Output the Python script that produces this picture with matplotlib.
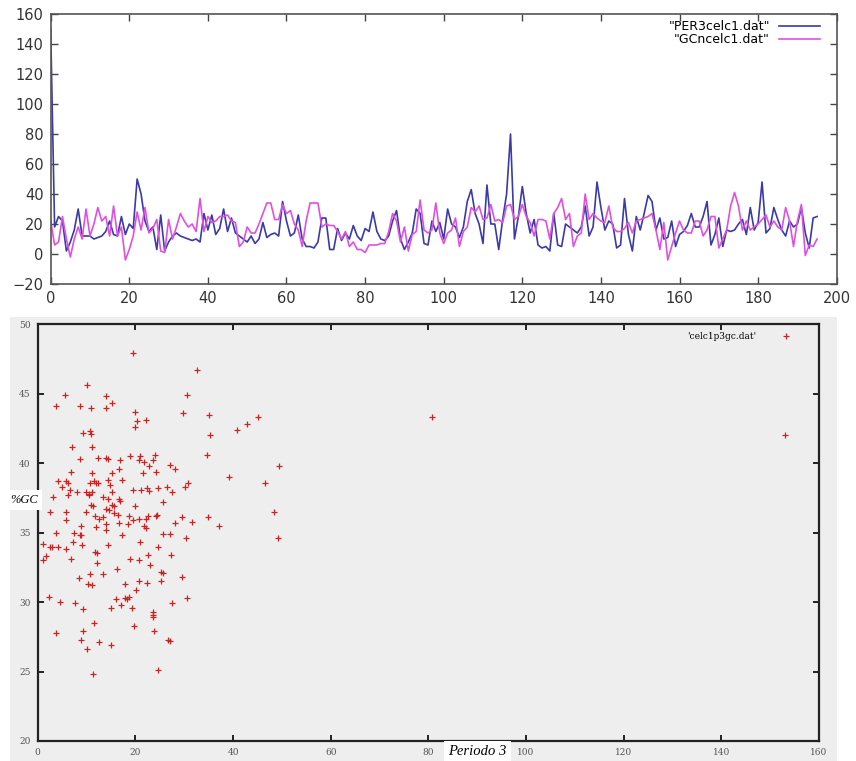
import matplotlib.pyplot as plt
import numpy as np
from matplotlib.patches import Rectangle

# --- top panel: two series, x = 0..195
per3 = [150, 18, 25, 22, 2, 8, 16, 30, 12, 12,
        12, 10, 11, 12, 15, 22, 13, 12, 25, 13,
        20, 17, 50, 40, 22, 15, 18, 3, 26, 2,
        8, 12, 14, 12, 11, 10, 9, 10, 8, 27,
        16, 26, 13, 17, 30, 15, 24, 14, 12, 10,
        8, 12, 7, 10, 21, 11, 13, 14, 12, 35,
        22, 12, 14, 26, 10, 5, 5, 4, 8, 24,
        24, 3, 3, 17, 9, 14, 10, 19, 12, 9,
        17, 15, 28, 15, 10, 9, 12, 22, 29, 10,
        3, 8, 14, 30, 27, 7, 6, 22, 15, 21,
        10, 30, 20, 18, 11, 18, 35, 43, 27, 20,
        7, 46, 20, 20, 3, 23, 40, 80, 10, 25,
        45, 27, 14, 23, 6, 4, 5, 2, 27, 6,
        5, 20, 18, 16, 14, 18, 32, 12, 18, 48,
        31, 16, 22, 20, 4, 6, 37, 13, 2, 25,
        16, 27, 39, 35, 16, 24, 10, 11, 22, 5,
        13, 15, 19, 27, 18, 18, 25, 35, 6, 13,
        24, 5, 16, 15, 16, 20, 23, 13, 31, 16,
        21, 48, 14, 17, 31, 23, 16, 12, 22, 18,
        20, 31, 14, 4, 24, 25]

gcn = [22, 6, 8, 25, 10, -2, 10, 18, 10, 30,
       12, 20, 31, 22, 25, 12, 32, 12, 18, -4,
       3, 12, 28, 16, 31, 14, 17, 23, 2, 1,
       23, 10, 18, 27, 22, 18, 20, 15, 37, 15,
       25, 21, 22, 25, 25, 26, 22, 21, 5, 8,
       18, 14, 14, 20, 27, 34, 34, 23, 23, 33,
       27, 29, 20, 16, 5, 22, 34, 34, 34, 18,
       20, 19, 19, 15, 10, 15, 5, 8, 3, 3,
       1, 6, 6, 6, 7, 7, 15, 27, 22, 8,
       18, 2, 13, 15, 36,
       16, 14, 16, 34, 14, 7, 14, 16, 24, 5,
       15, 18, 31, 28, 32, 23, 24, 33, 22, 23,
       21, 32, 33, 23, 25, 33, 25, 21, 12, 23,
       23, 22, 10, 27, 31, 37, 23, 27, 5, 12,
       14, 40, 23, 27, 24, 22, 21, 32, 18, 15,
       15, 17, 21, 14, 22, 23, 24, 25, 27, 16,
       3, 21, -4, 5, 14, 22, 16, 14, 14, 22,
       22, 12, 16, 25, 25, 4, 10, 16, 32, 41,
       32, 16, 22, 16, 18, 20, 23, 26, 18, 22,
       18, 16, 31, 22, 5, 22, 33, -1, 6, 5, 10]

# --- bottom panel: periodo 3 vs %GC
periodo3 = [19.5, 32.7, 10.1, 5.6, 13.9, 30.5, 15.2, 3.8, 8.6, 11.0,
            14.0, 19.9, 29.8, 35.1, 45.2, 20.3, 22.1, 42.8, 19.9, 40.8,
            9.2, 10.8, 11.0, 35.3, 7.0, 11.2, 34.6, 24.0, 12.3, 14.0,
            14.4, 19.0, 20.9, 8.7, 16.8, 20.8, 21.8, 23.7, 27.1, 49.5,
            22.7, 16.6, 28.1, 6.8, 11.1, 15.2, 21.6, 24.3, 39.2, 4.1,
            5.8, 6.2, 14.4, 17.3, 11.6, 12.3, 10.8, 11.9, 30.8, 46.6,
            14.9, 4.9, 6.7, 8.0, 9.9, 10.5, 11.2, 15.3, 19.5, 22.3,
            21.1, 22.9, 24.7, 26.4, 27.5, 30.1, 3.2, 6.2, 10.6, 13.4,
            16.6, 16.9, 14.4, 25.7, 11.0, 11.3, 15.3, 15.6, 19.9, 2.6,
            5.8, 9.8, 13.9, 14.6, 48.4, 15.6, 16.4, 11.8, 12.5, 13.4,
            18.8, 19.5, 20.8, 22.1, 22.6, 24.3, 24.5, 29.5, 34.8, 31.7,
            5.8, 18.5, 16.6, 28.2, 37.2, 8.9, 11.9, 14.0, 13.9, 21.7,
            22.1, 3.8, 7.5, 8.6, 8.8, 17.3, 25.7, 27.2, 7.3, 1.0,
            2.6, 2.9, 4.1, 9.0, 14.4, 21.0, 24.7, 30.3, 49.3, 5.8,
            1.7, 1.0, 6.8, 11.8, 12.1, 22.6, 27.4, 19.0, 20.8, 23.1,
            12.1, 16.2, 25.3, 25.7, 8.4, 10.7, 13.3, 29.5, 25.3, 20.8,
            22.4, 10.3, 11.1, 17.8, 20.2, 2.4, 30.5, 16.0, 17.8, 18.2,
            18.8, 4.5, 7.7, 17.1, 27.6, 15.1, 9.2, 19.3, 23.6, 23.6,
            23.6, 11.5, 19.7, 9.2, 23.8, 3.8, 8.9, 12.5, 15.1, 26.6,
            27.1, 10.1, 24.7, 11.4, 80.7, 153.1]
gc = [47.9, 46.7, 45.6, 44.9, 44.8, 44.9, 44.3, 44.1, 44.1, 44.0,
      44.0, 43.7, 43.6, 43.5, 43.3, 43.0, 43.1, 42.8, 42.6, 42.4,
      42.2, 42.3, 42.1, 42.0, 41.2, 41.2, 40.6, 40.6, 40.4, 40.4,
      40.3, 40.5, 40.5, 40.3, 40.2, 40.2, 40.1, 40.2, 39.9, 39.8,
      39.8, 39.6, 39.6, 39.4, 39.3, 39.3, 39.3, 39.4, 39.0, 38.7,
      38.7, 38.6, 38.8, 38.8, 38.7, 38.6, 38.6, 38.6, 38.6, 38.6,
      38.4, 38.3, 38.1, 37.9, 37.9, 37.8, 37.9, 37.9, 38.1, 38.2,
      38.1, 38.0, 38.2, 38.3, 37.9, 38.3, 37.6, 37.7, 37.7, 37.6,
      37.4, 37.3, 37.4, 37.2, 37.0, 36.9, 37.0, 36.9, 36.9, 36.5,
      36.5, 36.5, 36.7, 36.6, 36.5, 36.4, 36.3, 36.2, 36.0, 36.1,
      36.2, 35.9, 36.0, 36.0, 36.2, 36.2, 36.3, 36.1, 36.1, 35.8,
      35.9, 35.6, 35.7, 35.7, 35.5, 35.5, 35.4, 35.6, 35.2, 35.5,
      35.3, 35.0, 35.0, 34.8, 34.8, 34.8, 34.9, 34.9, 34.3, 34.2,
      34.0, 34.0, 34.0, 34.1, 34.1, 34.3, 34.0, 34.6, 34.6, 33.8,
      33.3, 33.0, 33.1, 33.6, 33.5, 33.4, 33.4, 33.1, 33.0, 32.7,
      32.8, 32.4, 32.2, 32.1, 31.7, 32.0, 32.0, 31.8, 31.5, 31.5,
      31.4, 31.3, 31.2, 31.3, 30.9, 30.4, 30.3, 30.2, 30.3, 30.2,
      30.4, 30.0, 29.9, 29.8, 29.9, 29.6, 29.5, 29.6, 29.3, 29.1,
      28.9, 28.5, 28.3, 27.9, 27.9, 27.8, 27.3, 27.1, 26.9, 27.3,
      27.2, 26.6, 25.1, 24.8, 43.3, 42.0]

fig = plt.figure(figsize=(8.56, 7.61), dpi=100)

# grey screenshot background behind the lower plot
bg = Rectangle((0.0117, 0), 0.966, 0.5834, transform=fig.transFigure,
               facecolor='#eeeeee', edgecolor='none', zorder=-10)
fig.add_artist(bg)

# ---- top plot
ax1 = fig.add_axes([0.0592, 0.6268, 0.9183, 0.3548])
x = np.arange(len(per3))
ax1.plot(x, per3, color='#3a3aa8', linewidth=1.2, label='"PER3celc1.dat"')
ax1.plot(np.arange(len(gcn)), gcn, color='#e050e0', linewidth=1.2, label='"GCncelc1.dat"')
ax1.set_xlim(0, 200)
ax1.set_ylim(-20, 160)
ax1.set_xticks(np.arange(0, 201, 20))
ax1.set_yticks(np.arange(-20, 161, 20))
ax1.tick_params(direction='in', top=True, right=True, length=5, width=1,
                labelsize=10.5, colors='#444444', labelcolor='#333333', pad=5)
for s in ax1.spines.values():
    s.set_color('#555555')
    s.set_linewidth(1.2)
ax1.legend(loc='upper right', bbox_to_anchor=(0.985, 0.995), frameon=False,
           markerfirst=False, fontsize=9, handlelength=3.3, handletextpad=0.7,
           labelspacing=0.0, borderaxespad=0, alignment='right')

# ---- bottom plot
ax2 = fig.add_axes([0.044, 0.0263, 0.9128, 0.5476])
ax2.set_zorder(1)
ax2.set_facecolor('#eeeeee')
ax2.plot(periodo3, gc, linestyle='none', marker='+', color='#cc2222',
         markersize=5, markeredgewidth=0.9, label="'celc1p3gc.dat'")
ax2.set_xlim(0, 160)
ax2.set_ylim(20, 50)
ax2.set_xticks(np.arange(0, 161, 20))
ax2.set_yticks(np.arange(20, 51, 5))
ax2.tick_params(direction='in', top=True, right=True, length=4, width=1.2,
                labelsize=6.5, labelcolor='#555555', pad=5)
for lab in ax2.get_xticklabels() + ax2.get_yticklabels():
    lab.set_family('DejaVu Serif')
for s in ax2.spines.values():
    s.set_color('#222222')
    s.set_linewidth(1.6)
ax2.legend(loc='upper right', bbox_to_anchor=(0.9706, 0.99), frameon=False,
           markerfirst=False, handlelength=1.5, borderaxespad=0, handletextpad=2.5,
           prop={'family': 'DejaVu Serif', 'size': 6.5})

fig.text(0.012, 0.343, '%GC', fontsize=9, style='italic', family='Liberation Serif',
         va='center', ha='left', zorder=5,
         bbox=dict(facecolor='white', edgecolor='none', pad=3))
fig.text(0.524, 0.012, 'Periodo 3', fontsize=10.5, style='italic', family='Liberation Serif',
         va='center', ha='left', zorder=5,
         bbox=dict(facecolor='white', edgecolor='none', pad=3))

fig.savefig('out.png', dpi=100)
